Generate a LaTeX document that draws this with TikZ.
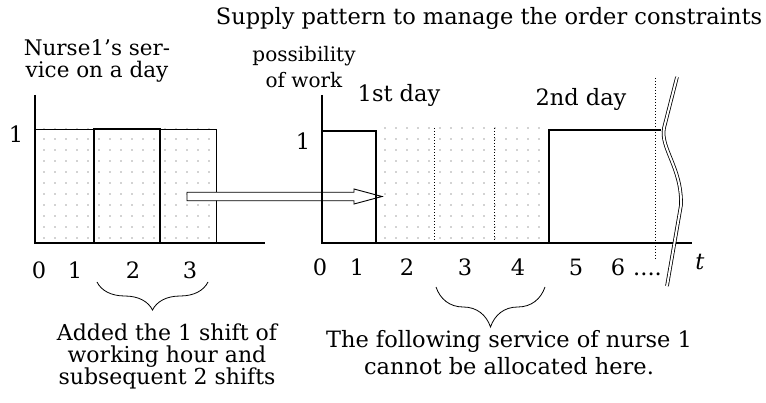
\documentclass[tikz,border=0pt]{standalone}
\usepackage{fontspec}
\setmainfont{DejaVu Serif}
\usetikzlibrary{patterns.meta,decorations.pathreplacing}
\setlength{\lineskiplimit}{-20pt}

\begin{document}
\begin{tikzpicture}[x=1pt,y=-1pt,
    lbl/.style={font=\fontsize{22.5}{24}\selectfont, inner sep=0pt, align=center},
    axisline/.style={line width=1.2pt},
    stepline/.style={line width=1.4pt},
    sepline/.style={dotted, line width=1pt},
    shade/.style={pattern={Dots[distance=11pt,radius=0.8pt]}, pattern color=black!35},
    hollowarrow/.style={draw, fill=white, line width=0.9pt, line join=miter},
    curly/.style={decorate, decoration={brace, mirror, amplitude=#1}, line width=0.8pt}]
  \useasboundingbox (0,0) rectangle (766,403);

  % headings
  \node[lbl, anchor=base] (title) at (489,25) {Supply pattern to manage the order constraints};
  \node[lbl, font=\fontsize{21.5}{22}\selectfont] (nurse) at (97,60.5)
    {Nurse1's ser-\\vice on a day};
  \node[lbl, font=\fontsize{20}{26}\selectfont] (poss) at (304,67.4) {possibility\\of work};
  \node[lbl, anchor=base] (day1) at (399,102) {1st day};
  \node[lbl, anchor=base] (day2) at (581,106) {2nd day};

  % left chart: one day of nurse 1
  \fill[shade] (35,129) rectangle (216,243);
  \draw[line width=0.8pt] (35,129) rectangle (216,243);
  \draw[line width=1.6pt] (94,129) rectangle (160,243);
  \draw[axisline] (35,95) -- (35,243) -- (265,243);
  \node[lbl, anchor=base] (one1) at (16,143) {1};
  \foreach \v/\x in {0/39,1/75,2/133,3/190}
    \node[lbl, anchor=base] (l\v) at (\x,279) {\v};

  % arrow between the charts
  \coordinate (atail) at (187,196.5);
  \coordinate (atip) at (382,196.5);
  \draw[hollowarrow] (atail) ++(0,-4.25) -- ++(167,0) -- ++(0,-3.25) -- (atip)
    -- ++(-28,7.5) -- ++(0,-3.25) -- ++(-167,0) -- cycle;

  % right chart: supply pattern
  \fill[shade] (376,122) rectangle (548,243);
  \draw[sepline] (434,128) -- (434,243);
  \draw[sepline] (494,128) -- (494,243);
  \draw[sepline] (655,78) -- (655,259);
  \draw[axisline] (322,95) -- (322,243) -- (692,243);
  \draw[stepline] (322,131) -- (376,131) -- (376,243);
  \draw[stepline] (549,243) -- (549,130) -- (661,130);
  \draw[line width=0.8pt, double, double distance=2pt]
    (677,77) -- (664,128) .. controls (660,148) and (682,168) .. (681,205) -- (667,286);
  \node[lbl, anchor=base] (one2) at (303,150) {1};
  \foreach \v/\x in {0/320,1/357,2/407,3/465,4/518,5/576,6/618}
    \node[lbl, anchor=base] (r\v) at (\x,276) {\v};
  \node[lbl, anchor=base west] (more) at (633,276) {....};
  \node[lbl, anchor=base] (tlab) at (700,270) {\textit{t}};

  % braces and notes
  \coordinate (b1a) at (97,282);
  \coordinate (b1b) at (208,282);
  \draw[curly=28pt] (b1a) -- (b1b);
  \coordinate (b2a) at (436,287);
  \coordinate (b2b) at (545,287);
  \draw[curly=40pt] (b2a) -- (b2b);
  \node[lbl, font=\fontsize{22}{22}\selectfont] (note1) at (167,356)
    {Added the 1 shift of\\working hour and\\subsequent 2 shifts};
  \node[lbl, font=\fontsize{22.5}{27}\selectfont] (note2) at (509,353)
    {The following service of nurse 1\\cannot be allocated here.};
\end{tikzpicture}
\end{document}
